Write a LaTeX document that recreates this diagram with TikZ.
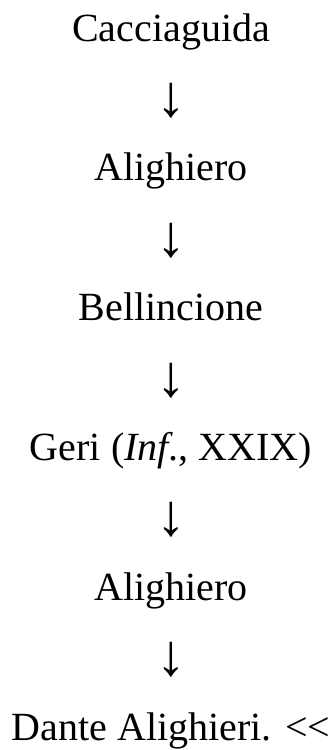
\documentclass[tikz,border=0pt]{standalone}
\usepackage{fontspec}
\usepackage{graphicx}
\setmainfont{Liberation Serif}
\tikzset{
  line/.style={anchor=base, inner sep=0pt, font=\fontsize{40}{48}\selectfont},
  arrowchar/.style={anchor=center, inner sep=0pt, font=\fontsize{40}{48}\selectfont},
}
\newcommand{\downarr}{\resizebox*{!}{35pt}{↓}}
\begin{document}
\begin{tikzpicture}[x=1pt,y=1pt]
\useasboundingbox (0,0) rectangle (333,-750);
\def\cx{171}
\node[line] (n1) at (\cx,-41) {Cacciaguida};
\node[arrowchar] (a1) at (\cx,-100.5) {\downarr};
\node[line] (n2) at (\cx,-180.9) {Alighiero};
\node[arrowchar] (a2) at (\cx,-240.4) {\downarr};
\node[line] (n3) at (\cx,-320.8) {Bellincione};
\node[arrowchar] (a3) at (\cx,-380.3) {\downarr};
\node[line] (n4) at (\cx,-460.7) {Geri (\textit{Inf}., XXIX)};
\node[arrowchar] (a4) at (\cx,-520.2) {\downarr};
\node[line] (n5) at (\cx,-600.6) {Alighiero};
\node[arrowchar] (a5) at (\cx,-660.1) {\downarr};
\node[line] (n6) at (\cx,-740.5) {Dante Alighieri. <\kern0pt<};
\end{tikzpicture}
\end{document}
